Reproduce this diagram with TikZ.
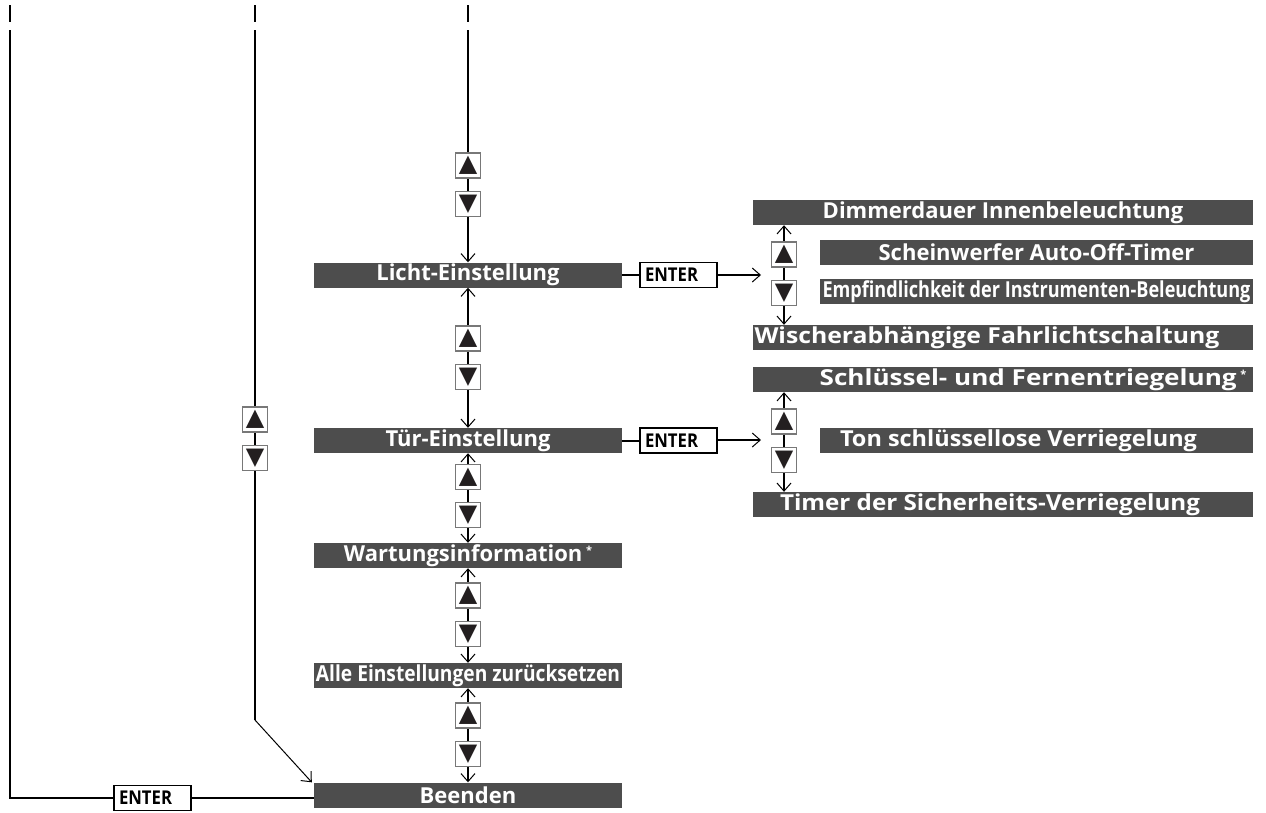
\documentclass[tikz,border=0pt]{standalone}
\usepackage{fontspec}
\setmainfont{Open Sans}
\newfontfamily\symfont{DejaVu Sans}
\usepackage{tikz}
\usetikzlibrary{positioning,arrows.meta}
\usepackage{xcolor}
\definecolor{menugray}{RGB}{77,77,77}
\definecolor{keygray}{RGB}{120,120,120}
\definecolor{keyblack}{RGB}{35,31,32}

% squeeze a label horizontally to a given width
\newlength\labelwd
\newcommand{\squeeze}[2]{\settowidth\labelwd{#2}\pgfmathsetmacro\squeezefac{#1/\labelwd}\scalebox{\squeezefac}[1]{#2}}
\newcommand{\starnote}{\,\raisebox{7pt}{\fontsize{11}{11}\selectfont *}}

\tikzset{
  menu/.style={fill=menugray,text=white,font=\fontsize{22}{22}\selectfont\bfseries,minimum height=25pt,inner sep=0pt},
  mainmenu/.style={menu,minimum width=308pt},
  submenu/.style={menu,minimum width=500pt},
  subsubmenu/.style={menu,minimum width=433pt},
  enterkey/.style={draw,fill=white,line width=1.2pt,minimum height=25pt,text width=67pt,inner xsep=5pt,align=left,font=\fontsize{19}{19}\selectfont\bfseries},
  updownkey/.style={draw=keygray,fill=white,line width=1.3pt,minimum size=25pt,inner sep=0pt,text=keyblack,font=\symfont\fontsize{24}{24}\selectfont},
  flow/.style={line width=2pt}
}

\begin{document}
\begin{tikzpicture}[x=1pt,y=-1pt,>={Straight Barb[length=8pt,width=14pt,line width=1pt]}]
\useasboundingbox (0,0) rectangle (1266,812);

% main menu column
\node[mainmenu] (licht) at (468,275) {Licht-Einstellung};
\node[mainmenu] (tuer) at (468,440.5) {Tür-Einstellung};
\node[mainmenu] (wartung) at (468,555.5) {Wartungsinformation\starnote};
\node[mainmenu] (reset) at (468,675.5) {\squeeze{304pt}{Alle Einstellungen zurücksetzen}};
\node[mainmenu] (beenden) at (468,795) {Beenden};

% sub menus
\node[submenu] (dimmer) at (1003,212.5) {Dimmerdauer Innenbeleuchtung};
\node[subsubmenu] (scheinwerfer) at (1036.5,252.5) {Scheinwerfer Auto-Off-Timer};
\node[subsubmenu] (empf) at (1036.5,291.5) {\squeeze{428pt}{Empfindlichkeit der Instrumenten-Beleuchtung}};
\node[submenu] (wischer) at (1003,337.5) {\squeeze{465pt}{Wischerabhängige Fahrlichtschaltung}\kern32pt};
\node[submenu] (schluessel) at (1003,379.5) {\kern60pt\squeeze{417pt}{Schlüssel- und Fernentriegelung}\starnote};
\node[subsubmenu] (ton) at (1036.5,440.5) {\squeeze{357pt}{Ton schlüssellose Verriegelung}\kern36pt};
\node[submenu] (timer) at (1003,504.5) {\squeeze{420pt}{Timer der Sicherheits-Verriegelung}\kern26pt};

% enter keys
\node[enterkey] (enterL) at (678.5,275) {\scalebox{0.88}[1]{ENTER}};
\node[enterkey] (enterT) at (678.5,440.5) {\scalebox{0.88}[1]{ENTER}};
\node[enterkey] (enterB) at (152.5,798) {\scalebox{0.88}[1]{ENTER}};

% continuation marks at the top
\foreach \x in {10,255,468}
  \draw[flow] (\x,5) -- (\x,22);
\coordinate (lefttop) at (10,30);
\coordinate (midtop) at (255,30);
\coordinate (midbend) at (255,720);
\coordinate (righttop) at (468,30);
\coordinate (lichtin) at (761,275);
\coordinate (tuerin) at (761,440);

% connectors
\draw[flow,->] (righttop) -- (licht);
\draw[flow,<->] (licht) -- (tuer);
\draw[flow,<->] (tuer) -- (wartung);
\draw[flow,<->] (wartung) -- (reset);
\draw[flow,<->] (reset) -- (beenden);
\draw[flow] (lefttop) |- (enterB.west);
\draw[flow] (enterB.east) -- (enterB.east -| beenden.west);
\draw[flow] (midtop) -- (midbend);
\draw[line width=1pt,->] (midbend) -- ([xshift=-2pt]beenden.north west);
\draw[flow] (licht) -- (enterL);
\draw[flow,->] (enterL) -- (lichtin);
\draw[flow] (tuer) -- (enterT);
\draw[flow,->] (enterT.east |- tuerin) -- (tuerin);
\draw[flow,<->] (784,0 |- dimmer.south) -- (784,0 |- wischer.north);
\draw[flow,<->] (784,0 |- schluessel.south) -- (784,0 |- timer.north);

% up and down keys
\foreach \n/\x/\y in {a/468/165.5,b/468/338.5,c/468/477,d/468/595.5,e/468/715.5,f/255/419.5,g/784/254.5,h/784/421.5}{
  \node[updownkey] (up\n) at (\x,\y) {▲};
  \node[updownkey,below=12pt of up\n] (dn\n) {▼};
}
\end{tikzpicture}
\end{document}
